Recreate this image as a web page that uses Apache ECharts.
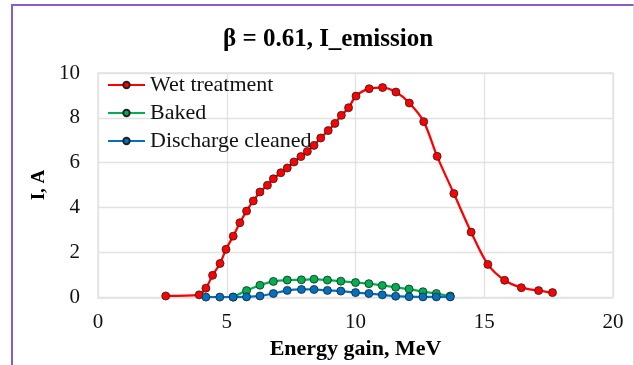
<!DOCTYPE html>
<html><head><meta charset="utf-8">
<script src="https://cdn.jsdelivr.net/npm/echarts@6/dist/echarts.min.js"></script>
<style>html,body{margin:0;padding:0;background:#fff}#c{width:634px;height:365px}
#frame{position:absolute;left:11px;top:4px;width:620px;height:370px;border-left:2px solid #8b5cc9;border-top:2px solid #8b5cc9;border-right:1px solid #d9d9d9;pointer-events:none}</style>
</head><body><div id="c"></div><div id="frame"></div>
<script>
const titleText = 'β = 0.61, I_emission';
const xName = 'Energy gain, MeV';
const yName = 'I, A';
const seriesNames = ['Wet treatment', 'Baked', 'Discharge cleaned'];
const wetX = [2.63,3.93,4.19,4.45,4.74,4.97,5.25,5.51,5.77,6.03,6.29,6.58,6.81,7.1,7.35,7.61,7.88,8.13,8.39,8.65,8.94,9.2,9.45,9.73,10.02,10.53,11.05,11.57,12.09,12.65,13.17,13.82,14.49,15.14,15.79,16.44,17.11,17.65];
const wetY = [0.05,0.1,0.4,0.97,1.5,2.13,2.72,3.32,3.84,4.29,4.69,4.99,5.28,5.55,5.76,6.03,6.27,6.5,6.77,7.1,7.43,7.75,8.11,8.45,8.97,9.3,9.35,9.15,8.66,7.83,6.28,4.62,2.9,1.46,0.75,0.42,0.29,0.2];
const bakedX = [5.25,5.77,6.29,6.81,7.35,7.9,8.39,8.91,9.43,10.0,10.52,11.04,11.56,12.08,12.62,13.14,13.68];
const bakedY = [0.0,0.29,0.53,0.7,0.76,0.77,0.8,0.76,0.71,0.65,0.6,0.52,0.44,0.36,0.24,0.16,0.05];
const dischX = [4.19,4.73,5.25,5.77,6.29,6.81,7.35,7.9,8.39,8.91,9.43,10.0,10.52,11.04,11.56,12.08,12.62,13.14,13.68];
const dischY = [0,0,0,0.01,0.05,0.16,0.3,0.34,0.34,0.3,0.27,0.2,0.16,0.1,0.04,0.02,0.01,0.01,0.01];
const xTicks = [0,5,10,15,20];
const yTicks = [0,2,4,6,8,10];

const font = '"Liberation Serif","Times New Roman",serif';
const colors = ['#ff0000','#00b050','#0070c0'];
function zip(a,b){return a.map((v,i)=>[v,b[i]]);}
function mk(name, data, color, z){
  return {name, type:'line', data, smooth:0.3, symbol:'circle', symbolSize:8, z,
    lineStyle:{color, width:2.25}, itemStyle:{color, borderColor:'#222', borderWidth:0.8}};
}
const chart = echarts.init(document.getElementById('c'));
chart.setOption({
  animation:false,
  title:{text:titleText, left:323, top:22, textAlign:'center',
    textStyle:{fontFamily:font, fontSize:25, fontWeight:'bold', color:'#000'}},
  legend:{left:102, top:69, orient:'vertical', itemGap:6, itemWidth:37, itemHeight:8,
    data:seriesNames, textStyle:{fontFamily:font, fontSize:22, color:'#111', padding:[0,0,0,0]}},
  grid:{left:98, right:21, top:73, bottom:67},
  xAxis:{type:'value', min:xTicks[0], max:xTicks[xTicks.length-1], interval:5,
    name:xName, nameLocation:'middle', nameGap:37,
    nameTextStyle:{fontFamily:font, fontSize:22, fontWeight:'bold', color:'#000'},
    axisLine:{show:false}, axisTick:{show:false},
    axisLabel:{fontFamily:font, fontSize:21, color:'#111', margin:15},
    splitLine:{show:true, lineStyle:{color:'#e2e2e2', width:1.3}}},
  yAxis:{type:'value', min:yTicks[0], max:yTicks[yTicks.length-1], interval:2,
    name:yName, nameLocation:'middle', nameGap:40,
    nameTextStyle:{fontFamily:font, fontSize:19, fontWeight:'bold', color:'#000'},
    axisLine:{show:false}, axisTick:{show:false},
    axisLabel:{fontFamily:font, fontSize:21, color:'#111', margin:18},
    splitLine:{show:true, lineStyle:{color:'#e2e2e2', width:1.3}}},
  series:[
    mk(seriesNames[0], zip(wetX,wetY), colors[0], 3),
    mk(seriesNames[1], zip(bakedX,bakedY), colors[1], 4),
    mk(seriesNames[2], zip(dischX,dischY), colors[2], 5)
  ],
  graphic:[{type:'rect', shape:{x:98, y:73, width:515, height:225}, style:{fill:'none', stroke:'#e2e2e2', lineWidth:1.3}, silent:true, z:0}]
});
</script></body></html>
